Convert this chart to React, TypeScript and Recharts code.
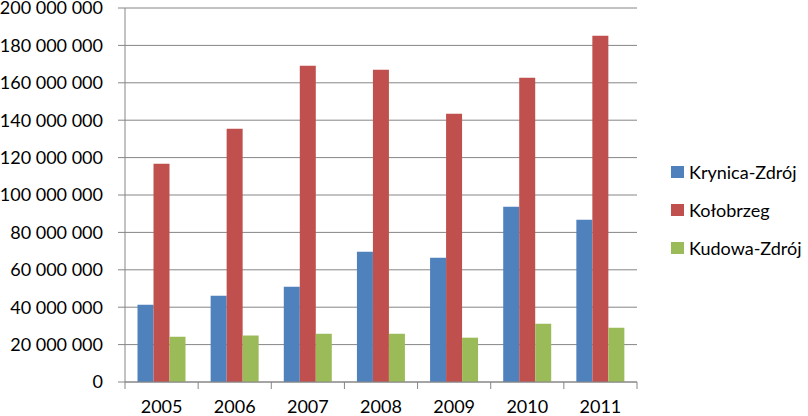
import { BarChart, Bar, XAxis, YAxis, CartesianGrid, Legend } from "recharts";

const years = ["2005", "2006", "2007", "2008", "2009", "2010", "2011"];
const krynica = [41.3, 46.1, 51.0, 69.7, 66.5, 93.7, 86.8];
const kolobrzeg = [116.7, 135.4, 169.1, 167.0, 143.5, 162.7, 185.2];
const kudowa = [24.2, 24.8, 25.8, 25.8, 23.7, 31.2, 29.0];
const yTicks = [0, 20, 40, 60, 80, 100, 120, 140, 160, 180, 200].map((v) => v * 1000000);

const series = [
  { key: "krynica", name: "Krynica-Zdrój", color: "#4F81BD" },
  { key: "kolobrzeg", name: "Kołobrzeg", color: "#C0504D" },
  { key: "kudowa", name: "Kudowa-Zdrój", color: "#9BBB59" },
];

const data = years.map((year, i) => ({
  year,
  krynica: krynica[i] * 1000000,
  kolobrzeg: kolobrzeg[i] * 1000000,
  kudowa: kudowa[i] * 1000000,
}));

const FONT = "Lato, 'Open Sans', sans-serif";
const AXIS = "#868686";
const W = 808;
const H = 416;
const LEFT = 125;
const RIGHT = 171;
const band = (W - LEFT - RIGHT) / years.length;

const fmt = (v: number) => String(v).replace(/\B(?=(\d{3})+(?!\d))/g, " ");

// category ticks sit on the band edges, like the spreadsheet original
const YearTick = (props: any) => {
  const { x, y, payload, index } = props;
  return (
    <g>
      <line x1={x - band / 2} y1={y} x2={x - band / 2} y2={y + 7} stroke={AXIS} />
      {index === years.length - 1 && (
        <line x1={x + band / 2} y1={y} x2={x + band / 2} y2={y + 7} stroke={AXIS} />
      )}
      <text x={x} y={y + 31} textAnchor="middle" fontSize={18} fontFamily={FONT} fill="#000">
        {payload.value}
      </text>
    </g>
  );
};

const LegendBox = () => (
  <div style={{ fontFamily: FONT, fontSize: 18, color: "#000" }}>
    {series.map((s) => (
      <div key={s.key} style={{ display: "flex", alignItems: "center", height: 38 }}>
        <span style={{ width: 13, height: 12, background: s.color, marginRight: 5 }} />
        <span>{s.name}</span>
      </div>
    ))}
  </div>
);

export default function App() {
  return (
    <div style={{ position: "absolute", left: 0, top: 0, width: W, height: H, background: "#fff" }}>
      <BarChart
        width={W}
        height={H}
        data={data}
        margin={{ top: 8, right: RIGHT, bottom: 0, left: 0 }}
        barGap={0}
        barCategoryGap={12.5}
      >
        <CartesianGrid vertical={false} stroke={AXIS} />
        <XAxis
          dataKey="year"
          height={34}
          stroke={AXIS}
          tickLine={false}
          tickSize={0}
          tickMargin={0}
          tick={<YearTick />}
          interval={0}
        />
        <YAxis
          width={LEFT}
          domain={[0, 200000000]}
          ticks={yTicks}
          interval={0}
          stroke={AXIS}
          tickSize={7}
          tickMargin={15}
          tickFormatter={fmt}
          tick={{ fill: "#000", fontSize: 18, fontFamily: FONT }}
        />
        <Legend
          layout="vertical"
          align="center"
          verticalAlign="middle"
          content={<LegendBox />}
          wrapperStyle={{ left: 671, top: 153, width: 137 }}
        />
        {series.map((s) => (
          <Bar key={s.key} dataKey={s.key} name={s.name} fill={s.color} isAnimationActive={false} />
        ))}
      </BarChart>
    </div>
  );
}
